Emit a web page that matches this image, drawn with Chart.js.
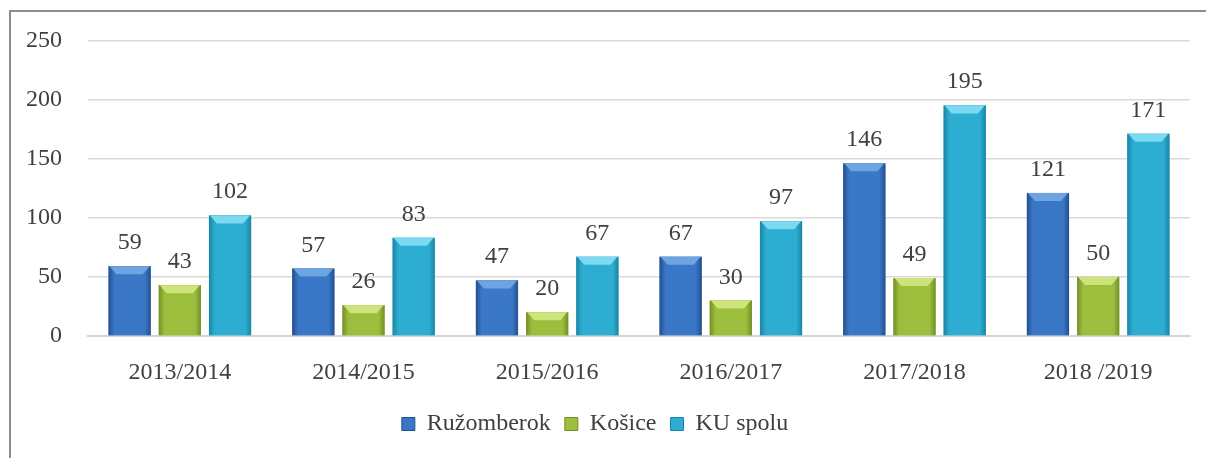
<!DOCTYPE html>
<html>
<head>
<meta charset="utf-8">
<script src="https://cdn.jsdelivr.net/npm/chart.js@4"></script>
<style>
  body { margin: 0; background: #fff; overflow: hidden; }
  #ram { position: absolute; left: 9px; top: 10px; width: 1300px; height: 600px; border-left: 2px solid #8c8c8c; border-top: 2px solid #8c8c8c; }
  #graf { position: absolute; left: 0; top: 0; }
</style>
</head>
<body>
<div id="ram"></div>
<canvas id="graf" width="1206" height="458"></canvas>
<script>
var roky = ['2013/2014', '2014/2015', '2015/2016', '2016/2017', '2017/2018', '2018 /2019'];
var ruzomberok = [59, 57, 47, 67, 146, 121];
var kosice = [43, 26, 20, 30, 49, 50];
var kuSpolu = [102, 83, 67, 97, 195, 171];
var osY = [0, 50, 100, 150, 200, 250];

var pismo = "'Liberation Serif', 'DejaVu Serif', serif";
var farbaTextu = '#404040';

// tiene a skosenie ako v exceli
var farby = [
  { hrana: '#23508c', stred: '#3a77c6', vrch: '#6fa4e2' },
  { hrana: '#728f27', stred: '#9cbe3c', vrch: '#cde47a' },
  { hrana: '#1a85a5', stred: '#2dadd2', vrch: '#7bd9f1' }
];

var pluginStlpce = {
  id: 'stlpce',
  afterDatasetsDraw: function(chart) {
    var ctx = chart.ctx;
    chart.data.datasets.forEach(function(ds, i) {
      var f = farby[i];
      chart.getDatasetMeta(i).data.forEach(function(bar) {
        var l = bar.x - bar.width / 2, r = bar.x + bar.width / 2;
        var t = bar.y, b = bar.base;
        var g = ctx.createLinearGradient(l, 0, r, 0);
        g.addColorStop(0, f.hrana);
        g.addColorStop(0.14, f.stred);
        g.addColorStop(0.86, f.stred);
        g.addColorStop(1, f.hrana);
        ctx.save();
        ctx.fillStyle = g;
        ctx.fillRect(l, t, r - l, b - t);
        var s = 8;
        ctx.beginPath();
        ctx.moveTo(l + 1, t);
        ctx.lineTo(r - 1, t);
        ctx.lineTo(r - s, t + s);
        ctx.lineTo(l + s, t + s);
        ctx.closePath();
        ctx.fillStyle = f.vrch;
        ctx.fill();
        ctx.restore();
      });
    });
  }
};

var pluginHodnoty = {
  id: 'hodnoty',
  afterDatasetsDraw: function(chart) {
    var ctx = chart.ctx;
    ctx.save();
    ctx.font = '24px ' + pismo;
    ctx.fillStyle = farbaTextu;
    ctx.textAlign = 'center';
    ctx.textBaseline = 'alphabetic';
    chart.data.datasets.forEach(function(ds, i) {
      chart.getDatasetMeta(i).data.forEach(function(bar, j) {
        ctx.fillText(ds.data[j], bar.x, bar.y - 17);
      });
    });
    ctx.restore();
  }
};

var graf = new Chart(document.getElementById('graf').getContext('2d'), {
  type: 'bar',
  data: {
    labels: roky,
    datasets: [
      { label: 'Ružomberok', data: ruzomberok, backgroundColor: farby[0].stred },
      { label: 'Košice', data: kosice, backgroundColor: farby[1].stred },
      { label: 'KU spolu', data: kuSpolu, backgroundColor: farby[2].stred }
    ]
  },
  options: {
    responsive: false,
    animation: false,
    categoryPercentage: 0.82,
    barPercentage: 0.84,
    layout: { padding: { top: 40, right: 16, left: 0, bottom: 12 } },
    plugins: {
      tooltip: { enabled: false },
      legend: {
        position: 'bottom',
        labels: {
          font: { family: pismo, size: 24 },
          color: farbaTextu,
          boxWidth: 13,
          boxHeight: 13,
          padding: 14,
          generateLabels: function(chart) {
            return chart.data.datasets.map(function(ds, i) {
              return { text: ds.label, fillStyle: farby[i].stred, strokeStyle: farby[i].hrana, lineWidth: 1, datasetIndex: i, fontColor: farbaTextu };
            });
          }
        }
      }
    },
    scales: {
      x: {
        grid: { display: false },
        border: { color: '#d4d4d4', width: 2 },
        ticks: { font: { family: pismo, size: 24 }, color: farbaTextu, padding: 14 },
        afterFit: function(s) { s.height = 62; }
      },
      y: {
        min: 0,
        max: 250,
        afterBuildTicks: function(s) { s.ticks = osY.map(function(v) { return { value: v }; }); },
        grid: { color: '#d9d9d9', lineWidth: 1.5, drawTicks: false },
        border: { display: false },
        ticks: { font: { family: pismo, size: 24 }, color: farbaTextu, padding: 26 },
        afterFit: function(s) { s.width = 88; }
      }
    }
  },
  plugins: [pluginStlpce, pluginHodnoty]
});
</script>
</body>
</html>
